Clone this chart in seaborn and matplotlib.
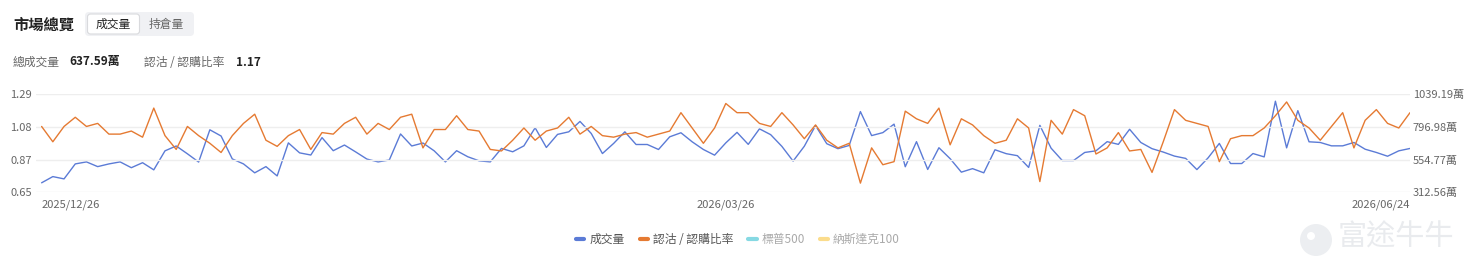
import numpy as np
import pandas as pd
import matplotlib
matplotlib.use("Agg")
import matplotlib.pyplot as plt
import seaborn as sns
from matplotlib.lines import Line2D
from matplotlib.patches import FancyBboxPatch, Circle
from matplotlib.transforms import IdentityTransform

# ---------------- data ----------------
volume = [383, 429, 412, 523, 538, 503, 523, 538, 495, 532,
          479, 620, 656, 598, 537, 776, 730, 560, 523, 457,
          503, 434, 679, 605, 589, 718, 621, 663, 612, 559,
          538, 552, 745, 656, 678, 620, 538, 621, 576, 546,
          538, 638, 613, 657, 791, 645, 742, 761, 838, 749,
          600, 675, 761, 667, 667, 630, 724, 754, 687, 630,
          588, 679, 757, 668, 783, 740, 653, 544, 654, 807,
          673, 636, 660, 911, 733, 755, 818, 502, 688, 482,
          643, 562, 462, 488, 457, 628, 599, 584, 497, 809,
          640, 548, 548, 608, 620, 688, 668, 780, 682, 636,
          611, 581, 564, 481, 568, 675, 526, 526, 600, 575,
          988, 642, 918, 687, 682, 657, 657, 682, 632, 608,
          580, 620, 637.59]

ratio = [1.08, 0.98, 1.08, 1.14, 1.08, 1.10, 1.03, 1.03, 1.05, 1.01,
         1.20, 1.02, 0.93, 1.08, 1.02, 0.97, 0.91, 1.02, 1.10, 1.16,
         0.99, 0.95, 1.02, 1.06, 0.93, 1.04, 1.03, 1.10, 1.14, 1.03,
         1.10, 1.06, 1.14, 1.16, 0.94, 1.06, 1.06, 1.15, 1.06, 1.05,
         0.93, 0.92, 0.99, 1.07, 0.99, 1.05, 1.07, 1.14, 1.03, 1.08,
         1.02, 1.01, 1.03, 1.04, 1.01, 1.03, 1.05, 1.17, 1.07, 0.97,
         1.07, 1.23, 1.17, 1.17, 1.10, 1.08, 1.17, 1.09, 1.00, 1.09,
         0.99, 0.94, 0.97, 0.71, 0.94, 0.83, 0.85, 1.18, 1.13, 1.10,
         1.20, 0.96, 1.13, 1.09, 1.02, 0.97, 0.99, 1.13, 1.07, 0.72,
         1.12, 1.03, 1.19, 1.15, 0.90, 0.94, 1.04, 0.92, 0.93, 0.78,
         0.98, 1.19, 1.12, 1.10, 1.08, 0.85, 1.00, 1.02, 1.02, 1.07,
         1.15, 1.24, 1.12, 1.07, 0.99, 1.08, 1.17, 0.94, 1.12, 1.19,
         1.10, 1.07, 1.17]

date_pos = [0, 61, 122]
date_labels = ["2025/12/26", "2026/03/26", "2026/06/24"]

left_ticks = [0.65, 0.87, 1.08, 1.29]
right_ticks = [312.56, 554.77, 796.98, 1039.19]
right_labels = ["312.56萬", "554.77萬", "796.98萬", "1039.19萬"]

legend_names = ["成交量", "認沽 / 認購比率", "標普500", "納斯達克100"]
total_vol = "637.59萬"
last_ratio = "1.17"

df = pd.DataFrame({"idx": np.arange(len(volume)), "volume": volume, "ratio": ratio})

# ---------------- style ----------------
sns.set_theme(style="white")
plt.rcParams['font.family'] = ['Noto Sans CJK TC', 'DejaVu Sans']

BLUE = "#5b7bd6"
ORANGE = "#e57a32"
W, H = 1479, 275

fig = plt.figure(figsize=(W / 100, H / 100), dpi=100)

def fx(x):
    return x / W

def fy(y):
    return 1 - y / H

# plot area (pixels): x 36..1410, y 94.3..192.3
ax = fig.add_axes([fx(36), fy(192.3), fx(1410 - 36), (192.3 - 94.3) / H])
ax2 = ax.twinx()

sns.lineplot(data=df, x="idx", y="volume", ax=ax2, color=BLUE, linewidth=1.0)
sns.lineplot(data=df, x="idx", y="ratio", ax=ax, color=ORANGE, linewidth=1.0)

ax.set_zorder(ax2.get_zorder() + 1)
ax.patch.set_visible(False)

ax.set_xlim(-0.5, 122.0)
ax.set_ylim(0.65, 1.29)
ax.set_yticks(np.linspace(0.65, 1.29, 4))
ax.set_yticklabels([f"{t:.2f}" for t in left_ticks])
ax2.set_ylim(right_ticks[0], right_ticks[-1])
ax2.set_yticks(right_ticks)
ax2.set_yticklabels(right_labels)

ax.set_xticks(date_pos)
ax.set_xticklabels(date_labels)
xl = ax.get_xticklabels()
xl[0].set_ha("left")
xl[2].set_ha("right")

for a in (ax, ax2):
    a.set_xlabel("")
    a.set_ylabel("")
    for s in a.spines.values():
        s.set_visible(False)
    a.tick_params(axis="both", length=0, labelsize=8, colors="#666666")
ax.tick_params(axis="y", pad=3)
ax2.tick_params(axis="y", pad=2)
ax.tick_params(axis="x", pad=5)
xl[0].set_x(-0.9)

ax.grid(axis="y", color="#eeeeee", linewidth=1.0)
ax.grid(axis="x", visible=False)
ax2.grid(False)

# ---------------- header ----------------
fig.text(fx(13), fy(25), "市場總覽", fontsize=11, fontweight="bold", color="#222222", va="center", ha="left")

outer = FancyBboxPatch((85, H - 36), 109, 24, boxstyle="round,pad=0,rounding_size=4",
                       transform=IdentityTransform(), facecolor="#f0f1f4", edgecolor="none")
inner = FancyBboxPatch((87.5, H - 34), 52, 20, boxstyle="round,pad=0,rounding_size=3",
                       transform=IdentityTransform(), facecolor="white", edgecolor="#d9dadd", linewidth=0.8)
fig.patches.extend([outer, inner])
fig.text(fx(113.5), fy(24.5), "成交量", fontsize=8.5, color="#222222", va="center", ha="center")
fig.text(fx(166.5), fy(24.5), "持倉量", fontsize=8.5, color="#666666", va="center", ha="center")

fig.text(fx(13), fy(62), "總成交量", fontsize=8.5, color="#666666", va="center", ha="left")
fig.text(fx(69), fy(62), total_vol, fontsize=8.5, fontweight="bold", color="#222222", va="center", ha="left")
fig.text(fx(144), fy(62), "認沽 / 認購比率", fontsize=8.5, color="#666666", va="center", ha="left")
fig.text(fx(236), fy(62), last_ratio, fontsize=8.5, fontweight="bold", color="#222222", va="center", ha="left")

# ---------------- legend ----------------
handles = [Line2D([], [], color=BLUE, linewidth=3, solid_capstyle="round"),
           Line2D([], [], color=ORANGE, linewidth=3, solid_capstyle="round"),
           Line2D([], [], color="#86d9e3", linewidth=3, solid_capstyle="round"),
           Line2D([], [], color="#fbdc8c", linewidth=3, solid_capstyle="round")]
leg = fig.legend(handles, legend_names, loc="center", bbox_to_anchor=(fx(738), fy(239.5)),
                 ncol=4, frameon=False, fontsize=8.5, handlelength=0.7, handletextpad=0.4,
                 columnspacing=1.3)
for t, c in zip(leg.get_texts(), ["#555555", "#555555", "#aaaaaa", "#aaaaaa"]):
    t.set_color(c)

# ---------------- watermark ----------------
fig.patches.append(Circle((1316, H - 240), 16, transform=IdentityTransform(),
                          facecolor="#eceef1", edgecolor="none"))
fig.patches.append(Circle((1311, H - 236), 4, transform=IdentityTransform(),
                          facecolor="white", edgecolor="none"))
fig.text(fx(1338), fy(238), "富途牛牛", fontsize=21, color="#e9ebee", va="center", ha="left")

fig.savefig("out.png", dpi=100)
